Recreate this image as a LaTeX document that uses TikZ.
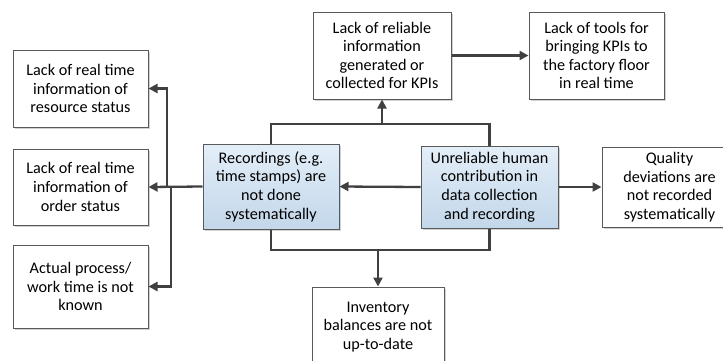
\documentclass[tikz,border=0pt]{standalone}
\usepackage{fontspec}
\setmainfont{Carlito}
\usetikzlibrary{arrows.meta,shadows}
\definecolor{linegray}{HTML}{404040}
\definecolor{boxgray}{HTML}{595959}
\definecolor{bluetop}{HTML}{E3EEF8}
\definecolor{bluebot}{HTML}{C3D7EA}
\tikzset{
  base/.style={draw=boxgray, line width=1pt, align=center, inner sep=0pt,
    font=\fontsize{16.2}{18.6}\selectfont, text=black,
    drop shadow={shadow xshift=1.6pt, shadow yshift=-1.6pt, fill=black, opacity=0.18}},
  plainbox/.style={base, fill=white},
  bluebox/.style={base, top color=bluetop, bottom color=bluebot},
  conn/.style={draw=linegray, line width=2.3pt},
  arr/.style={conn, -{Triangle[length=9pt,width=9pt]}},
}
\begin{document}
\begin{tikzpicture}[x=1pt,y=1pt]
\useasboundingbox (0,0) rectangle (723,-360);
\clip (0,0) rectangle (723,-360);
\node[plainbox, minimum width=135pt, minimum height=77pt] (res) at (80.5,-88.5) {Lack of real time\\information of\\resource status};
\node[plainbox, minimum width=135pt, minimum height=76pt] (ord) at (80.5,-187) {Lack of real time\\information of\\order status};
\node[plainbox, minimum width=135pt, minimum height=83pt] (act) at (80.5,-286.5) {Actual process/\\work time is not\\known};
\node[bluebox, minimum width=136pt, minimum height=85pt] (rec) at (271,-186.5) {Recordings (e.g.\\time stamps) are\\not done\\systematically};
\node[bluebox, minimum width=137pt, minimum height=82pt] (unr) at (489.5,-187) {Unreliable human\\contribution in\\data collection\\and recording};
\node[plainbox, minimum width=138pt, minimum height=87pt] (rel) at (382,-55.5) {Lack of reliable\\information\\generated or\\collected for KPIs};
\node[plainbox, minimum width=135pt, minimum height=87pt] (tools) at (596.5,-55.5) {Lack of tools for\\bringing KPIs to\\the factory floor\\in real time};
\node[plainbox, minimum width=135pt, minimum height=80pt] (qual) at (669.5,-187) {Quality\\deviations are\\not recorded\\systematically};
\node[plainbox, minimum width=132pt, minimum height=80pt] (inv) at (378,-327) {Inventory\\balances are not\\up-to-date};
\coordinate (j1) at (167,-187);
\coordinate (j2) at (171,-187);
\coordinate (top) at (382,-124);
\coordinate (bot) at (378,-250);
\draw[arr] (rec.west) -- (ord.east);
\draw[arr] (j1) |- (res.east);
\draw[arr] (j2) |- (act.east);
\draw[arr] (unr.west) -- (rec.east);
\draw[arr] (unr.east) -- (qual.west);
\draw[arr] (rel.east) -- (tools.west);
\draw[arr] (rec.north) |- (top) -- (rel.south);
\draw[conn] (unr.north) |- (top);
\draw[arr] (rec.south) |- (bot) -- (inv.north);
\draw[conn] (unr.south) |- (bot);
\end{tikzpicture}
\end{document}
